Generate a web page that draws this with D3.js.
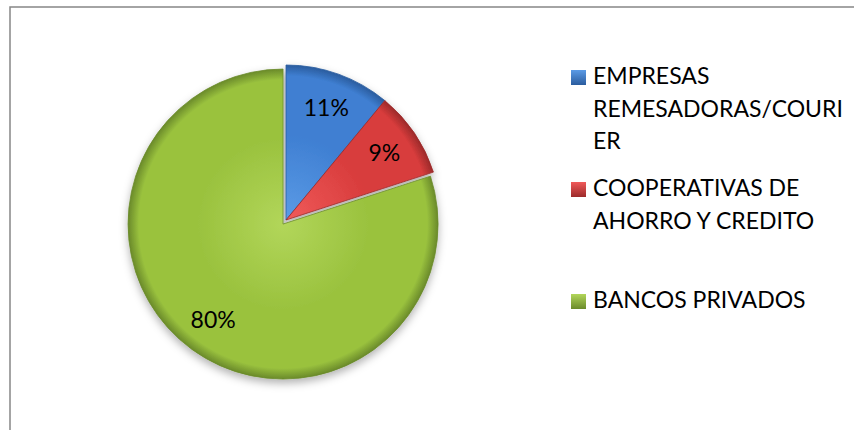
<!DOCTYPE html>
<html>
<head>
<meta charset="utf-8">
<script src="https://cdn.jsdelivr.net/npm/d3@7"></script>
<style>
  body { margin: 0; background: #fff; }
  text { font-family: Lato, "Open Sans", sans-serif; fill: #000; }
</style>
</head>
<body>
<script>
// chart data
var categories = ["EMPRESAS REMESADORAS/COURIER", "COOPERATIVAS DE AHORRO Y CREDITO", "BANCOS PRIVADOS"];
var values = [11, 9, 80];
var percentLabels = ["11%", "9%", "80%"];
var legendLines = [["EMPRESAS", "REMESADORAS/COURI", "ER"], ["COOPERATIVAS DE", "AHORRO Y CREDITO"], ["BANCOS PRIVADOS"]];
var exploded = [0, 0, 5];

var colors = [
  {light: "#5b9be6", mid: "#3f7fd2", dark: "#2a5c9e"},
  {light: "#f05a5a", mid: "#d83c3c", dark: "#9c2a2a"},
  {light: "#b2d65a", mid: "#9ac23e", dark: "#6a8a2a"}
];

var width = 854, height = 430;
var cx = 286, cy = 220, radius = 155;

var svg = d3.select("body").append("svg")
    .attr("width", width)
    .attr("height", height);

var defs = svg.append("defs");

// soft shading for each slice
colors.forEach(function(c, i) {
  var g = defs.append("radialGradient")
      .attr("id", "grad" + i)
      .attr("gradientUnits", "userSpaceOnUse")
      .attr("cx", 0).attr("cy", 0).attr("r", radius);
  g.append("stop").attr("offset", "0%").attr("stop-color", c.light);
  g.append("stop").attr("offset", "55%").attr("stop-color", c.mid);
  g.append("stop").attr("offset", "93%").attr("stop-color", c.mid);
  g.append("stop").attr("offset", "100%").attr("stop-color", c.dark);
});

var shadow = defs.append("filter").attr("id", "shadow")
    .attr("x", "-20%").attr("y", "-20%").attr("width", "140%").attr("height", "140%");
shadow.append("feDropShadow")
    .attr("dx", 0).attr("dy", 4).attr("stdDeviation", 4)
    .attr("flood-color", "#000").attr("flood-opacity", 0.3);

// chart frame
svg.append("path")
    .attr("d", "M10," + height + "V7H" + width)
    .attr("fill", "none")
    .attr("stroke", "#878787")
    .attr("stroke-width", 1.5);

var pie = d3.pie().sort(null).value(function(d) { return d; });
var arcs = pie(values);

var arc = d3.arc().innerRadius(0).outerRadius(radius);
var labelArc = d3.arc().innerRadius(119).outerRadius(119);

var g = svg.append("g")
    .attr("transform", "translate(" + cx + "," + cy + ")")
    .attr("filter", "url(#shadow)");

var slice = g.selectAll(".slice")
    .data(arcs)
  .enter().append("g")
    .attr("class", "slice")
    .attr("transform", function(d, i) {
      var a = (d.startAngle + d.endAngle) / 2;
      return "translate(" + (Math.sin(a) * exploded[i]) + "," + (-Math.cos(a) * exploded[i]) + ")";
    });

slice.append("path")
    .attr("d", arc)
    .attr("fill", function(d, i) { return "url(#grad" + i + ")"; })
    .attr("stroke", function(d, i) { return colors[i].dark; })
    .attr("stroke-width", 0.8);

// percentage labels
var lab = svg.append("g")
    .attr("transform", "translate(" + cx + "," + cy + ")");
lab.selectAll("text")
    .data(arcs)
  .enter().append("text")
    .attr("transform", function(d, i) {
      var p = labelArc.centroid(d);
      var a = (d.startAngle + d.endAngle) / 2;
      return "translate(" + (p[0] + Math.sin(a) * exploded[i]) + "," + (p[1] - Math.cos(a) * exploded[i]) + ")";
    })
    .attr("dy", "0.35em")
    .attr("text-anchor", "middle")
    .style("font-size", "23px")
    .text(function(d, i) { return percentLabels[i]; });

// legend
var legendY = d3.scaleBand().domain(categories).range([61, 397]).paddingInner(0);

var legend = svg.selectAll(".legend")
    .data(categories)
  .enter().append("g")
    .attr("class", "legend")
    .attr("transform", function(d) { return "translate(571," + legendY(d) + ")"; });

var lgrad = defs.selectAll(".lgrad")
    .data(colors)
  .enter().append("linearGradient")
    .attr("class", "lgrad")
    .attr("id", function(d, i) { return "lgrad" + i; })
    .attr("x1", 0).attr("y1", 0).attr("x2", 0).attr("y2", 1);
lgrad.append("stop").attr("offset", "0%").attr("stop-color", function(d) { return d.light; });
lgrad.append("stop").attr("offset", "100%").attr("stop-color", function(d) { return d.dark; });

legend.append("rect")
    .attr("x", 0).attr("y", 9)
    .attr("width", 15).attr("height", 15)
    .attr("fill", function(d, i) { return "url(#lgrad" + i + ")"; });

legend.append("text")
    .attr("x", 22)
    .attr("y", 23)
    .style("font-size", "23px")
    .selectAll("tspan")
    .data(function(d, i) { return legendLines[i]; })
  .enter().append("tspan")
    .attr("x", 22)
    .attr("dy", function(d, j) { return j === 0 ? 0 : 32.5; })
    .text(function(d) { return d; });
</script>
</body>
</html>
